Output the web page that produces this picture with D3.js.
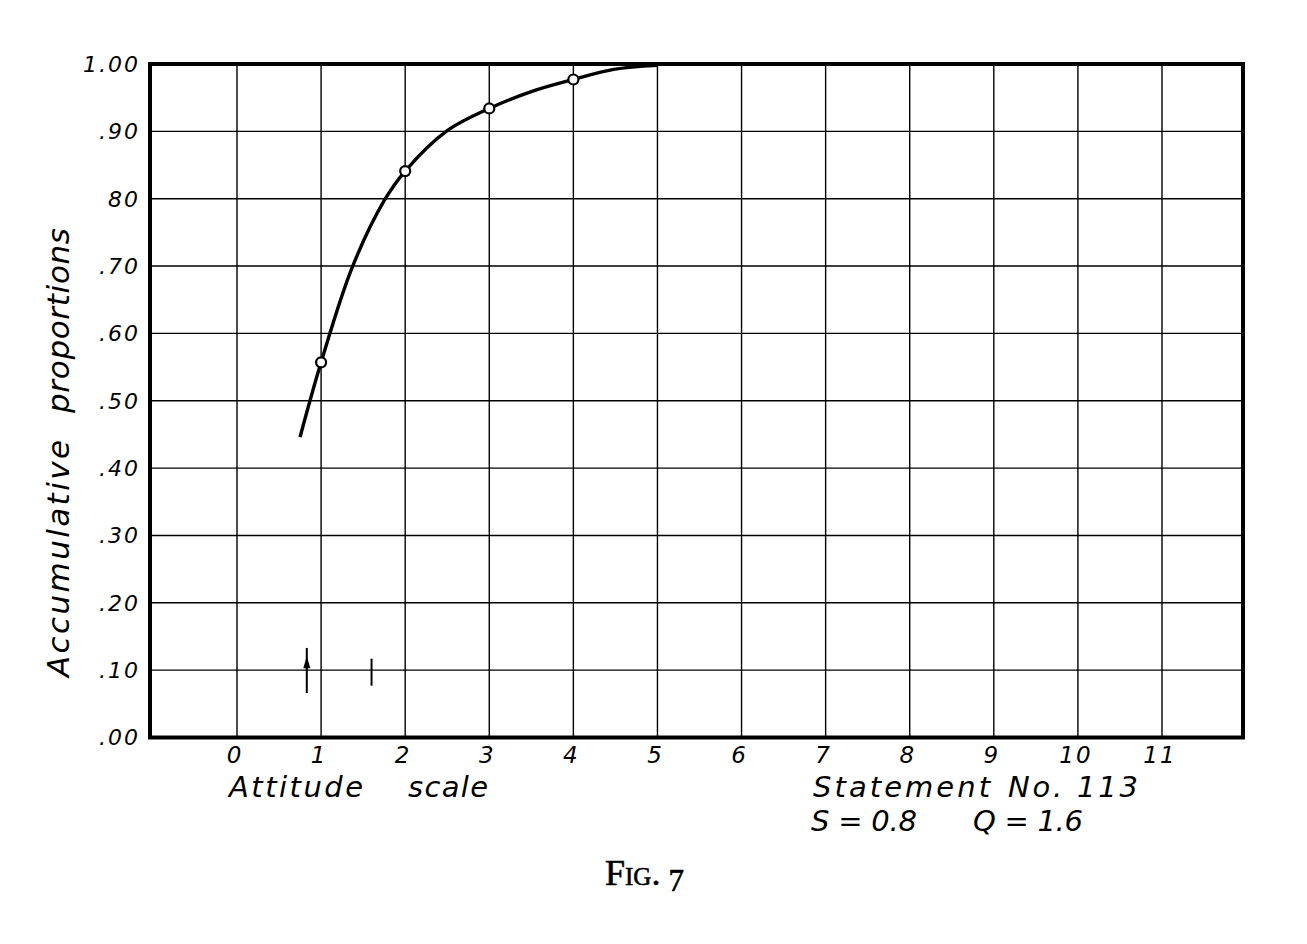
<!DOCTYPE html>
<html>
<head>
<meta charset="utf-8">
<script src="https://cdn.jsdelivr.net/npm/d3@7"></script>
<style>
  body { margin: 0; background: #fff; }
  svg { display: block; }
  .hand { font-family: "DejaVu Sans", sans-serif; font-style: italic; fill: #000; }
  .fig { font-family: "Liberation Serif", "DejaVu Serif", serif; fill: #000; }
</style>
</head>
<body>
<div class="chart"></div>
<script>
// attitude scale ticks and proportion ticks as lettered on the chart
const xTicks = [0, 1, 2, 3, 4, 5, 6, 7, 8, 9, 10, 11];
const yTicks = [1.0, 0.9, 0.8, 0.7, 0.6, 0.5, 0.4, 0.3, 0.2, 0.1, 0.0];
const yTickLabels = ["1.00", ".90", "80", ".70", ".60", ".50", ".40", ".30", ".20", ".10", ".00"];

// smoothed ogive
const curveX = [0.75, 1.0, 1.37, 1.75, 2.0, 2.5, 3.0, 3.5, 4.0, 4.48, 5.0];
const curveY = [0.446, 0.557, 0.698, 0.797, 0.841, 0.901, 0.934, 0.959, 0.977, 0.992, 0.998];

// observed accumulative proportions
const obsX = [1, 2, 3, 4];
const obsY = [0.557, 0.841, 0.934, 0.977];

// scale value (arrow) and Q marker
const sMark = 0.83, sLow = 0.066, sHigh = 0.133;
const qMark = 1.6, qLow = 0.077, qHigh = 0.117;

const width = 1307, height = 944;

const svg = d3.select(".chart").append("svg")
    .attr("width", width)
    .attr("height", height);

const xScale = d3.scaleLinear().domain([0, 11]).range([237, 1162]);
const yScale = d3.scaleLinear().domain([0, 1]).range([737.5, 64]);

const fLeft = 150, fRight = 1243, fTop = 64, fBottom = 737.5;

// grid
svg.append("g")
    .selectAll("line")
    .data(xTicks)
    .enter().append("line")
    .attr("x1", d => xScale(d)).attr("x2", d => xScale(d))
    .attr("y1", fTop).attr("y2", fBottom)
    .attr("stroke", "#000").attr("stroke-width", 1.4);

svg.append("g")
    .selectAll("line")
    .data(yTicks)
    .enter().append("line")
    .attr("x1", fLeft).attr("x2", fRight)
    .attr("y1", d => yScale(d)).attr("y2", d => yScale(d))
    .attr("stroke", "#000").attr("stroke-width", 1.4);

// heavy frame
svg.append("rect")
    .attr("x", fLeft).attr("y", fTop)
    .attr("width", fRight - fLeft).attr("height", fBottom - fTop)
    .attr("fill", "none")
    .attr("stroke", "#000")
    .attr("stroke-width", 4);

// y tick labels
svg.append("g")
    .selectAll("text")
    .data(yTicks)
    .enter().append("text")
    .attr("class", "hand")
    .attr("x", 140)
    .attr("y", d => yScale(d))
    .attr("dy", "0.36em")
    .attr("text-anchor", "end")
    .style("font-size", "22px")
    .style("letter-spacing", "2px")
    .text((d, i) => yTickLabels[i]);

// x tick labels
svg.append("g")
    .selectAll("text")
    .data(xTicks)
    .enter().append("text")
    .attr("class", "hand")
    .attr("x", d => xScale(d) - 2)
    .attr("y", 763)
    .attr("text-anchor", "middle")
    .style("font-size", "23px")
    .style("letter-spacing", "2px")
    .text(d => d);

// axis titles
const yTitle = svg.append("g").attr("transform", "translate(69,0) rotate(-90)");
yTitle.append("text")
    .attr("class", "hand")
    .attr("x", -677).attr("y", 0)
    .attr("textLength", 237).attr("lengthAdjust", "spacing")
    .style("font-size", "31px")
    .text("Accumulative");
yTitle.append("text")
    .attr("class", "hand")
    .attr("x", -413).attr("y", 0)
    .attr("textLength", 185).attr("lengthAdjust", "spacing")
    .style("font-size", "31px")
    .text("proportions");

const note = [
    {t: "Attitude", x: 229, y: 797, w: 134},
    {t: "scale", x: 408, y: 797, w: 80},
    {t: "Statement", x: 813, y: 797, w: 177},
    {t: "No. 113", x: 1008, y: 797, w: 130},
    {t: "S = 0.8", x: 811, y: 831, w: 106},
    {t: "Q = 1.6", x: 973, y: 831, w: 110}
];
svg.append("g")
    .selectAll("text")
    .data(note)
    .enter().append("text")
    .attr("class", "hand")
    .attr("x", d => d.x).attr("y", d => d.y)
    .attr("textLength", d => d.w).attr("lengthAdjust", "spacing")
    .style("font-size", "29px")
    .text(d => d.t);

// smoothed curve
const line = d3.line()
    .x(d => xScale(d[0]))
    .y(d => yScale(d[1]))
    .curve(d3.curveCatmullRom.alpha(0.5));

svg.append("path")
    .datum(curveX.map((v, i) => [v, curveY[i]]))
    .attr("d", line)
    .attr("fill", "none")
    .attr("stroke", "#000")
    .attr("stroke-width", 3.4);

// observed points
svg.append("g")
    .selectAll("circle")
    .data(obsX)
    .enter().append("circle")
    .attr("cx", d => xScale(d))
    .attr("cy", (d, i) => yScale(obsY[i]))
    .attr("r", 5)
    .attr("fill", "#fff")
    .attr("stroke", "#000")
    .attr("stroke-width", 2.2);

// S arrow and Q mark
svg.append("line")
    .attr("x1", xScale(sMark)).attr("x2", xScale(sMark))
    .attr("y1", yScale(sLow)).attr("y2", yScale(sHigh))
    .attr("stroke", "#000").attr("stroke-width", 2);
const ax = xScale(sMark), tipY = yScale(0.121), baseY = yScale(0.103);
svg.append("path")
    .attr("d", d3.line()([[ax, tipY], [ax + 3.5, baseY], [ax - 3.5, baseY]]) + "Z")
    .attr("fill", "#000");
svg.append("line")
    .attr("x1", xScale(qMark)).attr("x2", xScale(qMark))
    .attr("y1", yScale(qLow)).attr("y2", yScale(qHigh))
    .attr("stroke", "#000").attr("stroke-width", 2);

// caption
const cap = svg.append("text")
    .attr("class", "fig")
    .attr("x", 605).attr("y", 885)
    .attr("stroke", "#000").attr("stroke-width", 0.6)
    .style("font-size", "36px");
cap.append("tspan").style("font-variant", "small-caps").text("Fig.");
cap.append("tspan").attr("dx", 8).attr("dy", 6).style("font-size", "31px").text("7");
</script>
</body>
</html>
